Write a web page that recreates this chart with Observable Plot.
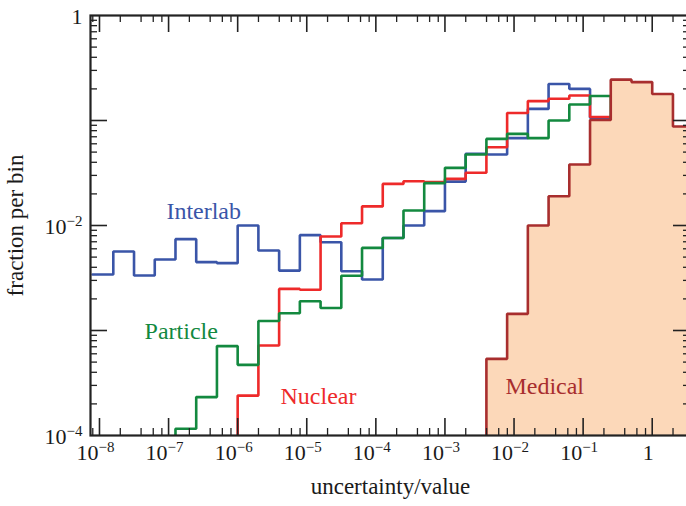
<!DOCTYPE html>
<html><head><meta charset="utf-8">
<script src="https://cdn.jsdelivr.net/npm/d3@7"></script>
<script src="https://cdn.jsdelivr.net/npm/@observablehq/plot@0.6"></script>
<style>
html,body{margin:0;padding:0;background:#fff;overflow:hidden}
#chart{width:686px;height:506px;overflow:hidden;position:relative}
</style>
</head><body><div id="chart"></div>
<script>
// bin edges (log10 of uncertainty/value)
const binEdgesLog = [-8.1,-7.8,-7.5,-7.2,-6.9,-6.6,-6.3,-6.0,-5.7,-5.4,-5.1,-4.8,-4.5,-4.2,-3.9,-3.6,-3.3,-3.0,-2.7,-2.4,-2.1,-1.8,-1.5,-1.2,-0.9,-0.6,-0.3,0.0,0.3,0.6];

// fraction per bin for each series, with first bin index
const interlabStart = 0;
const interlab = [0.00341,0.00565,0.00334,0.00474,0.00741,0.00448,0.00438,0.0100,0.00578,0.00372,0.00809,0.00693,0.00367,0.00306,0.0076,0.0100,0.0137,0.0262,0.0482,0.0474,0.0679,0.129,0.223,0.200,0.106];
const nuclearStart = 7;
const nuclear = [0.000240,0.000719,0.00249,0.00244,0.00785,0.0105,0.0152,0.0249,0.0264,0.0259,0.0278,0.0318,0.0557,0.118,0.153,0.161,0.173,0.108];
const particleStart = 4;
const particle = [0.000116,0.000232,0.000710,0.000471,0.00123,0.00146,0.00190,0.00164,0.00332,0.00612,0.0076,0.0139,0.0253,0.0354,0.0474,0.0668,0.0746,0.0679,0.100,0.142,0.171];
const medicalStart = 19;
const medical = [0.000537,0.00144,0.0100,0.0190,0.0381,0.101,0.245,0.232,0.179,0.0877];

// tick values & labels
const xMajorTicks = [1e-8,1e-7,1e-6,1e-5,1e-4,1e-3,1e-2,1e-1,1];
const xTickLabels = ["10^−8","10^−7","10^−6","10^−5","10^−4","10^−3","10^−2","10^−1","1"];
const xMinorMantissas = [2,4,6,8];
const yMajorTicks = [1e-3,1e-2,1e-1];
const yLabelValues = [1,1e-2,1e-4];
const yTickLabels = ["1","10^−2","10^−4"];
const yMinorMantissas = [2,3,4,5,6,7,8,9];
const decades = [1e-9,1e-8,1e-7,1e-6,1e-5,1e-4,1e-3,1e-2,1e-1,1];

// series annotation labels
const seriesLabels = [
  {text:"Interlab", x:9.3e-8, y:0.0138, color:"#3a55a8"},
  {text:"Particle", x:4.5e-8, y:0.00099, color:"#13893f"},
  {text:"Nuclear", x:4.17e-6, y:0.000234, color:"#ee2a2a"},
  {text:"Medical", x:7.5e-3, y:0.000295, color:"#a82e2e"}
];

const floor = 1e-4;
const xDomain = [Math.pow(10,-8.130), Math.pow(10,0.554)];
const edge = k => Math.pow(10, binEdgesLog[k]);

function stepPoints(start, vals, fromFloor, toFloor) {
  const pts = [];
  if (fromFloor) pts.push({x: edge(start), y: floor});
  vals.forEach((v, i) => {
    pts.push({x: edge(start+i), y: v});
    pts.push({x: edge(start+i+1), y: v});
  });
  if (toFloor) pts.push({x: edge(start+vals.length), y: floor});
  return pts;
}
const blueLine = stepPoints(interlabStart, interlab, false, true);
const redLine = stepPoints(nuclearStart, nuclear, true, true);
const greenLine = stepPoints(particleStart, particle, true, true);
const medLine = stepPoints(medicalStart, medical, true, false);
const medArea = medical.map((v,i)=>({x: edge(medicalStart+i), y: v})).concat([{x: edge(medicalStart+medical.length), y: medical[medical.length-1]}]);

const inDom = v => v >= xDomain[0] && v <= xDomain[1];
const xMinorTicks = decades.flatMap(d => xMinorMantissas.map(m => m*d)).filter(inDom);
const yMinorTicks = decades.flatMap(d => yMinorMantissas.map(m => m*d)).filter(v => v > 1e-4 && v < 1);

const W = 686, H = 506, mL = 90, mR = -4, mT = 15, mB = 71;
const pw = W - mL - mR, ph = H - mT - mB;
const majL = 17, minL = 7;
const tickCol = "#222";

const chart = Plot.plot({
  width: W, height: H,
  marginLeft: mL, marginRight: mR, marginTop: mT, marginBottom: mB,
  style: {fontFamily: "'Liberation Serif','Times New Roman',serif", background: "#fff", overflow: "hidden"},
  x: {type: "log", domain: xDomain, axis: null},
  y: {type: "log", domain: [1e-4, 1], axis: null},
  marks: [
    Plot.line(blueLine, {x:"x", y:"y", stroke:"#3a55a8", strokeWidth:2.6, strokeLinejoin:"miter", clip:true}),
    Plot.line(redLine, {x:"x", y:"y", stroke:"#ee2a2a", strokeWidth:2.6, strokeLinejoin:"miter", clip:true}),
    Plot.line(greenLine, {x:"x", y:"y", stroke:"#13893f", strokeWidth:2.6, strokeLinejoin:"miter", clip:true}),
    Plot.areaY(medArea, {x:"x", y1: floor, y2:"y", curve:"step-after", fill:"#fcd8b9", clip:true}),
    Plot.line(medLine, {x:"x", y:"y", stroke:"#a82e2e", strokeWidth:2.6, strokeLinejoin:"miter", clip:true}),
    // ticks bottom / top
    Plot.tickX(xMajorTicks, {x: d=>d, insetTop: ph-majL, stroke: tickCol, strokeWidth: 1.6}),
    Plot.tickX(xMajorTicks, {x: d=>d, insetBottom: ph-majL, stroke: tickCol, strokeWidth: 1.6}),
    Plot.tickX(xMinorTicks, {x: d=>d, insetTop: ph-minL, stroke: tickCol, strokeWidth: 1.3}),
    Plot.tickX(xMinorTicks, {x: d=>d, insetBottom: ph-minL, stroke: tickCol, strokeWidth: 1.3}),
    // ticks left / right
    Plot.tickY(yMajorTicks, {y: d=>d, insetRight: pw-majL, stroke: tickCol, strokeWidth: 1.6}),
    Plot.tickY(yMajorTicks, {y: d=>d, insetLeft: pw-majL, stroke: tickCol, strokeWidth: 1.6}),
    Plot.tickY(yMinorTicks, {y: d=>d, insetRight: pw-minL, stroke: tickCol, strokeWidth: 1.3}),
    Plot.tickY(yMinorTicks, {y: d=>d, insetLeft: pw-minL, stroke: tickCol, strokeWidth: 1.3}),
    Plot.frame({stroke: "#222", strokeWidth: 2.2}),
    // tick labels
    Plot.text(xMajorTicks, {x: d=>d, text: (d,i)=>xTickLabels[i], frameAnchor:"bottom", dy: 24, dx: -4, fontSize: 22, fill:"#1a1a1a"}),
    Plot.text(yLabelValues, {y: d=>d, text: (d,i)=>yTickLabels[i], frameAnchor:"left", textAnchor:"end", dx: -8, dy: 1, fontSize: 22, fill:"#1a1a1a"}),
    // axis titles
    Plot.text(["uncertainty/value"], {text: d=>d, frameAnchor:"bottom", dy: 58, fontSize: 23, fill:"#1a1a1a"}),
    Plot.text(["fraction per bin"], {text: d=>d, frameAnchor:"left", textAnchor:"middle", dx: -75, rotate: -90, fontSize: 23, fill:"#1a1a1a"}),
    // series labels
    Plot.text(seriesLabels, {x:"x", y:"y", text:"text", fill:"color", textAnchor:"start", fontSize: 24})
  ]
});

for (const t of chart.querySelectorAll("text")) {
  const s = t.textContent;
  if (s.includes("^")) {
    const [base, exp] = s.split("^");
    t.textContent = base;
    const ts = document.createElementNS("http://www.w3.org/2000/svg", "tspan");
    ts.setAttribute("font-size", "15");
    ts.setAttribute("dy", "-8");
    ts.textContent = exp;
    t.appendChild(ts);
  }
}
document.getElementById("chart").appendChild(chart);
</script>
</body></html>
